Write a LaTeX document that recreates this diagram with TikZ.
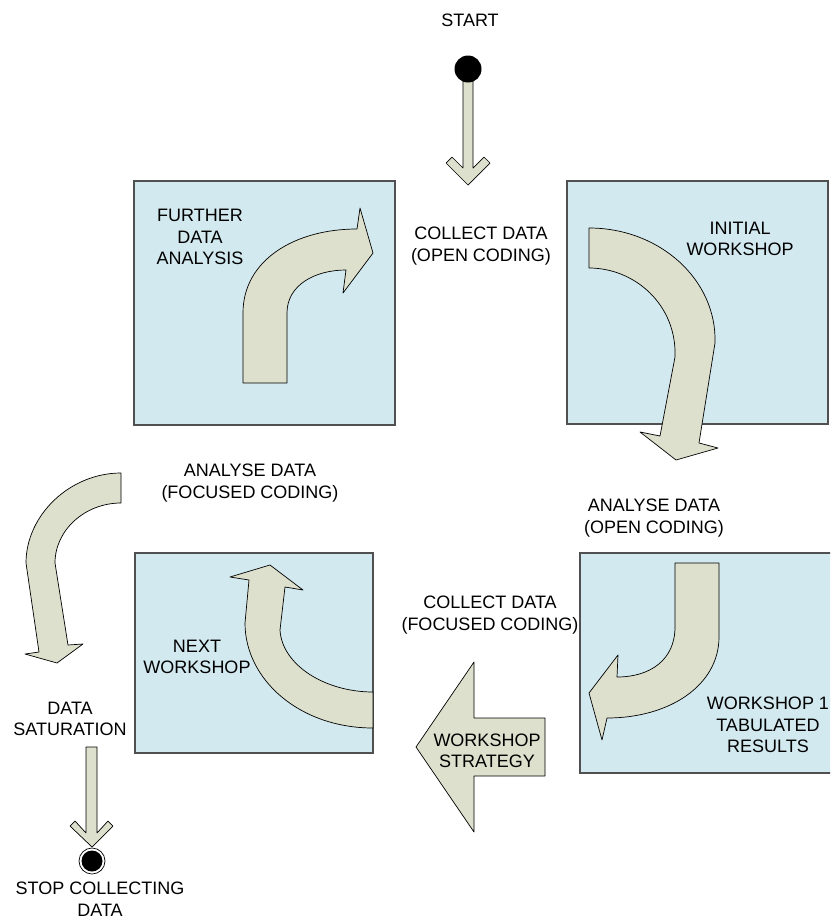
\documentclass[tikz,border=0pt]{standalone}
\usepackage{fontspec}
\setmainfont{Liberation Sans}
\definecolor{boxfill}{RGB}{210,233,239}
\definecolor{boxline}{RGB}{80,80,80}
\definecolor{arrowfill}{RGB}{221,224,204}
\tikzset{
  panel/.style={draw=boxline, line width=1.1pt, fill=boxfill},
  blockarrow/.style={draw=black, line width=0.7pt, fill=arrowfill, line join=round},
  lbl/.style={align=center, inner sep=0pt, font=\fontsize{18}{21.5}\selectfont},
}
\begin{document}
\begin{tikzpicture}[x=1pt,y=-1pt]
\useasboundingbox (0,0) rectangle (830,921);
\clip (0,0) rectangle (830,921);
\fill[white] (0,0) rectangle (830,921);

% panels
\draw[panel] (134,181) rectangle (395,425);
\draw[panel] (567,181) rectangle (828,424);
\draw[panel] (135,553) rectangle (373,753);
\draw[panel] (580,553) rectangle (845,773);

% start
\draw[blockarrow] (463,80) -- (463,168) -- (452,157) -- (446,163) -- (468,185) -- (490,163) -- (484,157) -- (473,168) -- (473,80) -- cycle;
\node[circle, fill=black, minimum size=27pt, inner sep=0pt] (start) at (468,69) {};

% arrow in further data analysis
\draw[blockarrow] (243,383) -- (243,313) .. controls (243,260) and (295,229) .. (357,229)
  -- (360,208) -- (373,253) -- (343,293) -- (346,270)
  .. controls (315,270) and (287,285) .. (287,313) -- (287,383) -- cycle;

% arrow in initial workshop
\draw[blockarrow] (589,228) .. controls (660,228) and (717,280) .. (715,343)
  -- (699,443) -- (718,448) -- (676,460) -- (640,432) -- (660,436) -- (675,357)
  .. controls (677,305) and (635,268) .. (589,268) -- cycle;

% arrow analyse data focused
\draw[blockarrow] (121,473) .. controls (70,473) and (26,515) .. (26,563)
  -- (39,652) -- (25,654) -- (57,663) -- (83,644) -- (68,645) -- (55,563)
  .. controls (55,530) and (85,503) .. (121,503) -- cycle;

% arrow in next workshop
\draw[blockarrow] (373,728) .. controls (300,728) and (245,680) .. (245,623)
  -- (249,580) -- (230,577) -- (270,565) -- (303,590) -- (285,587) -- (280,630)
  .. controls (282,665) and (325,692) .. (373,692) -- cycle;

% arrow in workshop 1 results
\draw[blockarrow] (675,563) -- (719,563) -- (719,637)
  .. controls (719,685) and (670,718) .. (607,718)
  -- (602,740) -- (589,693) -- (618,655) -- (617,677)
  .. controls (650,677) and (675,660) .. (675,627) -- cycle;

% workshop strategy arrow
\draw[blockarrow] (416,747) -- (474,662) -- (474,718) -- (545,718) -- (545,776) -- (474,776) -- (474,832) -- cycle;

% stop
\draw[blockarrow] (86,747) -- (86,833) -- (75,821) -- (70,826) -- (92,847) -- (113,826) -- (108,821) -- (97,833) -- (97,747) -- cycle;
\node[circle, draw=black, line width=0.7pt, fill=white, minimum size=26pt, inner sep=0pt] (stop) at (92,861) {};
\node[circle, fill=black, minimum size=21pt, inner sep=0pt] at (stop) {};

% labels
\node[lbl] (tstart) at (470,20) {START};
\node[lbl] (further) at (200,237) {FURTHER\\DATA\\ANALYSIS};
\node[lbl] (collect1) at (481,246) {COLLECT DATA\\(OPEN CODING)};
\node[lbl] (initial) at (740,239) {INITIAL\\WORKSHOP};
\node[lbl] (analyse2) at (250,483) {ANALYSE DATA\\(FOCUSED CODING)};
\node[lbl] (analyse1) at (654,518) {ANALYSE DATA\\(OPEN CODING)};
\node[lbl] (collect2) at (490,615) {COLLECT DATA\\(FOCUSED CODING)};
\node[lbl] (next) at (197,657) {NEXT\\WORKSHOP};
\node[lbl] (saturation) at (70,719) {DATA\\SATURATION};
\node[lbl] (results) at (768,725) {WORKSHOP 1\\TABULATED\\RESULTS};
\node[lbl] (strategy) at (487,751) {WORKSHOP\\STRATEGY};
\node[lbl] (tstop) at (100,899) {STOP COLLECTING\\DATA};
\end{tikzpicture}
\end{document}
